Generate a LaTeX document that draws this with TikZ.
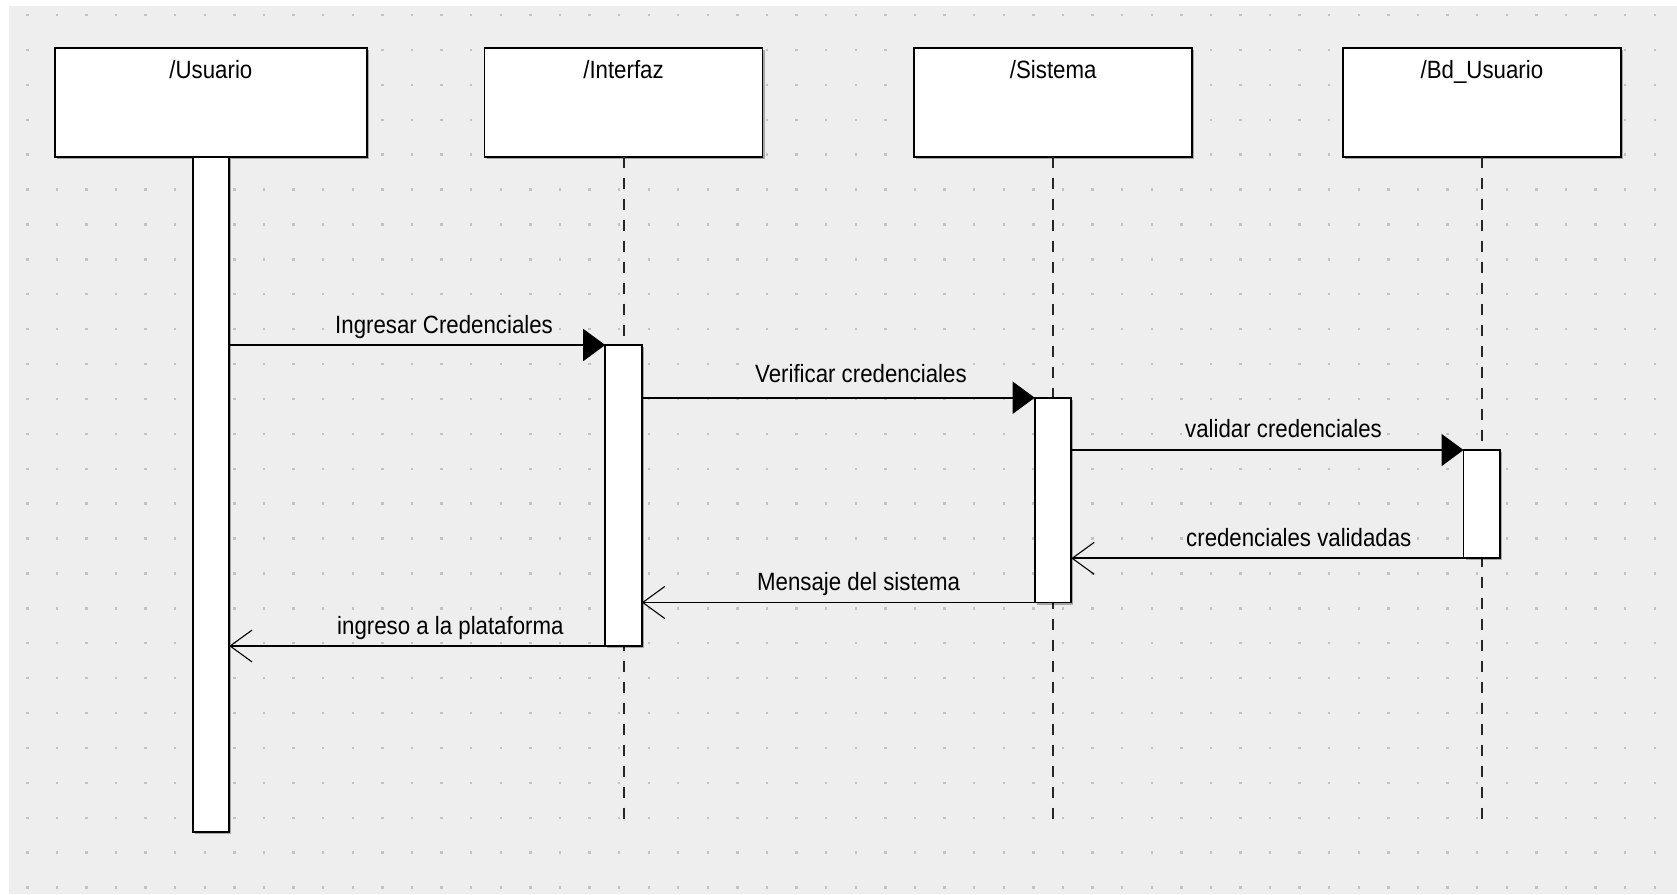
\documentclass[tikz,border=0pt]{standalone}
\usepackage{fontspec}
\newfontfamily\umlfont[FakeStretch=0.89]{Liberation Sans}
\usetikzlibrary{arrows.meta,shadows,calc}
\definecolor{canvasbg}{HTML}{EEEEEE}
\definecolor{griddot}{HTML}{C2C2C2}
\begin{document}
\begin{tikzpicture}[x=1pt,y=-1pt,
  txt/.style={font=\umlfont\fontsize{25}{30}\selectfont, inner sep=0pt},
  boxshadow/.style={drop shadow={shadow xshift=2pt,shadow yshift=-2pt,opacity=0.3,fill=black}},
  header/.style={draw=black, line width=1.8pt, fill=white, boxshadow,
    minimum width=278pt, minimum height=108.4pt, outer sep=0pt, inner sep=0pt},
  headtext/.style={txt, anchor=base},
  actbar/.style={draw=black, line width=1.8pt, fill=white, boxshadow,
    minimum width=36.6pt, outer sep=0pt, inner sep=0pt},
  lifeline/.style={draw=black!85, line width=2pt, dash pattern=on 11pt off 10pt},
  call/.style={line width=1.8pt, -{Triangle[length=22pt,width=32pt]}},
  reply/.style={line width=1.8pt, -{Straight Barb[length=22pt,width=32pt,line width=1.1pt]}},
  msglabel/.style={txt, fill=canvasbg, inner sep=3pt, anchor=base west},
]
% canvas
\useasboundingbox (0,0) rectangle (1677,894);
\fill[white] (0,0) rectangle (1677,894);
\fill[canvasbg] (9,6) rectangle (1677,894);
\foreach \i in {0,...,55}
  \foreach \j in {0,...,25}
    \fill[griddot] ({27.3+29.59*\i-1.2},{15+34.9*\j-1.2}) rectangle ++(2.4,2.4);

% participants
\node[header, minimum width=311.7pt] (usr) at (210.9,102.5) {};
\node[header] (ifz) at (623.5,102.5) {};
\node[header] (sys) at (1053.2,102.5) {};
\node[header] (bdu) at (1481.9,102.5) {};
\node[headtext] (usrT) at ($(usr.north)+(0,30)$) {/Usuario};
\node[headtext] (ifzT) at ($(ifz.north)+(0,30)$) {/Interfaz};
\node[headtext] (sysT) at ($(sys.north)+(0,30)$) {/Sistema};
\node[headtext] (bduT) at ($(bdu.north)+(0,30)$) {/Bd\_Usuario};

% lifelines
\coordinate (lifeend) at (0,823);
\draw[lifeline] (ifz.south) -- (ifz.south |- lifeend);
\draw[lifeline] (sys.south) -- (sys.south |- lifeend);
\draw[lifeline] (bdu.south) -- (bdu.south |- lifeend);

% activation bars
\node[actbar, minimum height=675pt] (ub) at (210.9,494.2) {};
\node[actbar, minimum height=301pt] (ib) at (623.5,495.5) {};
\node[actbar, minimum height=204.8pt] (sb) at (1053,500.1) {};
\node[actbar, minimum height=108.3pt] (bb) at (1481.8,504.15) {};

% messages
\draw[call] (ub.east |- ib.north west) -- (ib.north west);
\draw[call] (ib.east |- sb.north west) -- (sb.north west);
\draw[call] (sb.east |- bb.north west) -- (bb.north west);
\draw[reply] (bb.south west) -- (sb.east |- bb.south west);
\draw[reply] (sb.south west) -- (ib.east |- sb.south west);
\draw[reply] (ib.south west) -- (ub.east |- ib.south west);

% message labels
\node[msglabel] (m1) at (332,333.3) {Ingresar Credenciales};
\node[msglabel] (m2) at (752,382.7) {Verificar credenciales};
\node[msglabel] (m3) at (1182,437.3) {validar credenciales};
\node[msglabel] (m4) at (1183,546.7) {credenciales validadas};
\node[msglabel] (m5) at (754,590) {Mensaje del sistema};
\node[msglabel] (m6) at (334,634) {ingreso a la plataforma};
\end{tikzpicture}
\end{document}
